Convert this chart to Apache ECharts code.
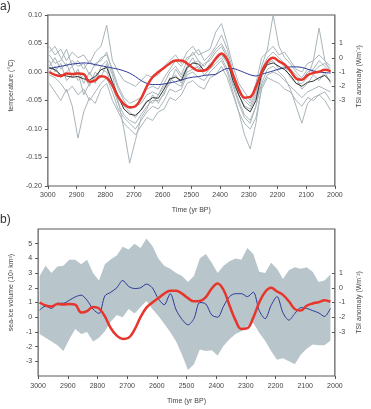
<!DOCTYPE html>
<html>
<head>
<meta charset="utf-8">
<script src="https://cdn.jsdelivr.net/npm/echarts@6.0.0/dist/echarts.min.js"></script>
<style>
  html, body { margin: 0; padding: 0; background: #fff; }
  #chart { width: 371px; height: 409px; }
</style>
</head>
<body>
<div id="chart"></div>
<script>
// years BP, one value every 20 yr
var years = [2995,2975,2955,2935,2915,2895,2875,2855,2835,2815,
             2795,2775,2755,2735,2715,2695,2675,2655,2635,2615,
             2595,2575,2555,2535,2515,2495,2475,2455,2435,2415,
             2395,2375,2355,2335,2315,2295,2275,2255,2235,2215,
             2195,2175,2155,2135,2115,2095,2075,2055,2035,2015];

// panel a: ensemble members (grey)
var member1 = [0.045,0.030,0.040,0.020,0.035,0.025,0.030,0.015,0.035,0.045,
               0.082,0.020,0.000,-0.015,-0.020,-0.025,-0.015,-0.005,-0.010,-0.005,
               0.010,0.020,0.030,0.015,0.035,0.045,0.030,0.035,0.040,0.070,
               0.085,0.050,0.010,-0.020,-0.035,-0.050,-0.020,0.025,0.035,0.045,
               0.030,0.035,0.020,0.005,0.000,0.015,0.020,0.030,0.020,0.010];
var member2 = [-0.020,-0.035,-0.050,-0.030,-0.060,-0.116,-0.070,-0.045,-0.055,-0.030,
               -0.020,-0.050,-0.070,-0.090,-0.100,-0.110,-0.095,-0.080,-0.085,-0.070,
               -0.065,-0.045,-0.050,-0.040,-0.020,-0.015,-0.025,-0.030,-0.010,-0.005,
               0.010,-0.010,-0.040,-0.070,-0.090,-0.100,-0.080,-0.030,-0.010,-0.015,
               -0.020,-0.030,-0.035,-0.050,-0.060,-0.045,-0.050,-0.040,-0.035,-0.050];
var member3 = [0.010,0.025,0.005,0.015,-0.010,0.005,-0.020,0.000,-0.020,0.010,
               0.020,-0.005,-0.050,-0.100,-0.160,-0.120,-0.080,-0.065,-0.040,-0.055,
               -0.035,-0.020,0.005,-0.010,0.010,0.025,0.005,0.015,0.020,0.035,
               0.045,0.025,-0.020,-0.050,-0.075,-0.085,-0.060,-0.010,0.020,0.025,
               0.020,0.010,0.000,-0.010,-0.030,-0.020,-0.005,-0.015,0.000,-0.020];
var member4 = [0.030,0.015,0.020,0.040,0.010,0.020,0.005,0.020,0.010,0.025,
               0.030,0.005,-0.025,-0.045,-0.055,-0.050,-0.045,-0.030,-0.025,-0.030,
               -0.010,0.005,0.020,0.010,0.025,0.030,0.040,0.020,0.030,0.045,
               0.065,0.040,0.000,-0.030,-0.045,-0.055,-0.035,0.010,0.040,0.100,
               0.045,0.025,0.015,0.000,-0.010,0.005,0.000,0.010,0.015,0.005];
var member5 = [-0.005,-0.010,-0.020,-0.035,-0.025,-0.040,-0.030,-0.050,-0.035,-0.020,
               -0.010,-0.035,-0.065,-0.080,-0.090,-0.100,-0.085,-0.070,-0.060,-0.065,
               -0.050,-0.030,-0.035,-0.030,-0.005,0.000,-0.010,-0.015,0.000,0.010,
               0.020,0.000,-0.035,-0.070,-0.110,-0.135,-0.090,-0.025,-0.005,0.000,
               -0.005,-0.015,-0.025,-0.035,-0.045,-0.035,-0.030,-0.025,-0.030,-0.035];
var member6 = [0.000,0.010,-0.010,0.000,0.010,-0.015,-0.005,-0.025,0.000,-0.010,
               0.015,-0.020,-0.040,-0.060,-0.070,-0.080,-0.065,-0.050,-0.055,-0.040,
               -0.025,-0.015,-0.005,-0.020,0.005,0.015,0.020,0.000,0.015,0.020,
               0.030,0.015,-0.010,-0.040,-0.060,-0.065,-0.045,0.000,0.015,0.020,
               0.005,0.010,-0.010,-0.020,-0.020,-0.010,0.020,0.077,0.020,0.000];
var member7 = [0.020,0.000,0.015,-0.015,-0.005,0.000,-0.040,-0.020,-0.010,0.005,
               0.000,-0.025,-0.055,-0.075,-0.085,-0.090,-0.075,-0.060,-0.050,-0.050,
               -0.040,-0.010,-0.020,-0.025,0.000,0.005,0.010,-0.005,0.005,0.015,
               0.025,0.005,-0.025,-0.055,-0.080,-0.090,-0.060,-0.020,0.005,0.010,
               0.000,-0.010,-0.030,-0.060,-0.090,-0.055,-0.045,-0.040,-0.050,-0.067];
var member8 = [0.035,0.045,0.025,0.010,0.020,0.010,0.015,-0.005,0.015,0.020,
               0.035,0.000,-0.030,-0.050,-0.065,-0.060,-0.055,-0.040,-0.035,-0.040,
               -0.020,0.000,0.010,-0.005,0.020,0.035,0.020,0.010,0.025,0.040,
               0.050,0.030,-0.005,-0.035,-0.050,-0.060,-0.040,0.005,0.025,0.035,
               0.025,0.015,0.005,-0.005,-0.015,0.000,0.005,0.020,0.010,0.000];
var members = [member1, member2, member3, member4, member5, member6, member7, member8];

// panel a: ensemble mean (black) and the blue curve
var tempMean = [0.008,0.004,-0.005,-0.007,-0.009,-0.008,-0.012,-0.014,-0.008,0.004,
                0.008,-0.018,-0.043,-0.065,-0.074,-0.076,-0.067,-0.052,-0.045,-0.046,
                -0.030,-0.012,-0.009,-0.015,0.008,0.016,0.014,0.002,0.012,0.022,
                0.033,0.020,-0.015,-0.040,-0.062,-0.070,-0.050,-0.003,0.013,0.016,
                0.010,0.004,-0.006,-0.020,-0.025,-0.018,-0.016,-0.010,-0.006,-0.016];
var tempBlue = [0.006,0.008,0.010,0.012,0.014,0.015,0.016,0.015,0.013,0.011,
                0.009,0.007,0.005,0.002,-0.002,-0.008,-0.015,-0.020,-0.022,-0.022,
                -0.021,-0.019,-0.017,-0.014,-0.011,-0.009,-0.008,-0.006,-0.005,-0.004,
                0.002,0.006,0.006,0.003,-0.001,-0.005,-0.007,-0.004,-0.001,0.002,
                0.005,0.007,0.009,0.009,0.008,0.005,0.002,0.000,-0.001,-0.002];

// TSI anomaly (red), both panels
var tsi = [-1.0,-1.2,-1.28,-1.1,-1.14,-1.1,-1.15,-1.68,-1.58,-1.3,
           -1.4,-1.95,-2.75,-3.25,-3.48,-3.4,-2.85,-2.0,-1.35,-1.0,
           -0.7,-0.4,-0.2,-0.2,-0.4,-0.7,-0.92,-0.9,-0.63,-0.05,
           0.3,-0.15,-1.2,-2.2,-2.8,-2.75,-2.03,-1.0,-0.28,0.0,
           -0.25,-0.48,-0.92,-1.45,-1.55,-1.22,-1.07,-0.98,-0.85,-0.95];

// panel b: sea-ice volume mean (blue) and spread (grey band)
var iceMean = [0.48,0.75,0.6,0.95,0.95,1.15,1.38,1.5,1.15,0.55,
               0.25,1.45,1.7,2.0,2.5,2.1,1.95,2.0,2.25,2.0,
               1.25,0.85,1.6,0.5,-0.15,-0.52,-0.1,1.0,0.9,0.15,
               0.0,0.75,1.4,1.6,1.6,1.4,1.7,0.45,-0.1,0.8,
               1.4,0.3,-0.2,0.25,0.65,0.6,0.45,0.3,0.05,0.6];
var iceUpper = [2.8,3.5,3.0,3.45,3.5,3.9,3.9,3.6,3.9,3.0,
                2.5,3.6,3.95,4.2,4.8,4.6,5.0,4.7,5.35,4.85,
                4.0,3.5,3.3,3.0,2.8,2.4,2.8,4.0,4.3,3.7,
                3.0,3.5,3.8,4.0,3.9,4.7,4.3,3.1,3.0,3.7,
                3.3,2.6,3.2,3.4,3.3,3.4,3.1,2.4,2.5,2.9];
var iceLower = [-1.15,-1.4,-1.65,-1.9,-2.3,-1.5,-0.8,-1.15,-1.0,-1.65,
                -1.4,-0.95,-0.3,0.15,0.0,0.55,0.25,0.7,1.1,0.55,
                0.1,-0.45,-1.0,-1.65,-2.55,-3.6,-3.2,-2.2,-2.3,-2.25,
                -2.6,-1.95,-1.5,-1.15,-0.95,-0.6,-0.4,-1.05,-1.6,-2.3,
                -2.9,-2.8,-3.0,-3.2,-2.55,-2.15,-1.85,-1.9,-1.9,-1.6];

// tick labels
var tsiTicks = [-3, -2, -1, 0, 1];
var iceTicks = [-3, -2, -1, 0, 1, 2, 3, 4, 5];

var FONT = 'Liberation Sans, Arial, sans-serif';
var TXT = '#444';

function pairs(vals) {
  return years.map(function (y, i) { return [y, vals[i]]; });
}

function xAx(gi, labelMargin, nameGap) {
  return {
    type: 'value', gridIndex: gi, min: 2000, max: 3000, interval: 100, inverse: true,
    name: 'Time (yr BP)', nameLocation: 'middle', nameGap: nameGap,
    nameTextStyle: { fontSize: 7, color: TXT, fontFamily: FONT },
    axisLine: { show: false, onZero: false },
    axisTick: { show: true, length: 3, lineStyle: { color: '#555' } },
    axisLabel: { fontSize: 7, color: TXT, fontFamily: FONT, margin: labelMargin,
      formatter: function (v) { return String(v); } },
    splitLine: { show: false }
  };
}

function line(vals, xi, yi, color, width, z, smooth) {
  return {
    type: 'line', xAxisIndex: xi, yAxisIndex: yi, data: pairs(vals),
    showSymbol: false, smooth: smooth || false, z: z, silent: true,
    lineStyle: { color: color, width: width }
  };
}

var chart = echarts.init(document.getElementById('chart'), null, { renderer: 'canvas' });

var series = members.map(function (m) { return line(m, 0, 0, '#a9b5ba', 1, 2); });
series.push(line(tempBlue, 0, 0, '#2b3a99', 1, 3, 0.3));
series.push(line(tempMean, 0, 0, '#333333', 1, 4));
series.push(line(tsi, 0, 1, '#e8352b', 2.5, 5, 0.4));

series.push({
  type: 'custom', xAxisIndex: 1, yAxisIndex: 2, silent: true, z: 1,
  data: [[2500, 0]],
  renderItem: function (params, api) {
    var pts = [];
    for (var i = 0; i < years.length; i++) pts.push(api.coord([years[i], iceUpper[i]]));
    for (var j = years.length - 1; j >= 0; j--) pts.push(api.coord([years[j], iceLower[j]]));
    return { type: 'polygon', shape: { points: pts }, style: { fill: '#b8c5ca' } };
  }
});
series.push(line(iceMean, 1, 2, '#2b3a99', 1, 3, 0.3));
series.push(line(tsi, 1, 3, '#e8352b', 2.5, 5, 0.4));

var option = {
  animation: false,
  backgroundColor: '#fff',
  textStyle: { fontFamily: FONT },
  grid: [
    { left: 33, top: 15, width: 313, height: 171, show: true, borderColor: '#5a5a5a', borderWidth: 1.2 },
    { left: 32, top: 229, width: 313, height: 147, show: true, borderColor: '#5a5a5a', borderWidth: 1.2 }
  ],
  xAxis: [xAx(0, 6, 21), xAx(1, 7, 22)],
  yAxis: [
    {
      type: 'value', gridIndex: 0, position: 'left', min: -0.2, max: 0.1, interval: 0.05,
      name: 'temperature (°C)', nameLocation: 'middle', nameGap: 24, nameRotate: 90,
      nameTextStyle: { fontSize: 7, color: TXT, fontFamily: FONT, padding: [0, 0, 0, 30] },
      axisLine: { show: false, onZero: false },
      axisTick: { show: true, length: 3, lineStyle: { color: '#555' } },
      axisLabel: { fontSize: 7, color: TXT, fontFamily: FONT, margin: 6,
        formatter: function (v) { return v.toFixed(2); } },
      splitLine: { show: false }
    },
    {
      type: 'value', gridIndex: 0, position: 'right', min: -9, max: 3, interval: 1,
      name: 'TSI anomaly (Wm⁻²)', nameLocation: 'middle', nameGap: 15, nameRotate: 90,
      nameTextStyle: { fontSize: 7, color: TXT, fontFamily: FONT, padding: [0, 0, 0, 48] },
      axisLine: { show: false, onZero: false },
      axisTick: { show: true, inside: true, length: 3, customValues: tsiTicks, lineStyle: { color: '#555' } },
      axisLabel: { fontSize: 7, color: TXT, fontFamily: FONT, margin: 4, customValues: tsiTicks },
      splitLine: { show: false }
    },
    {
      type: 'value', gridIndex: 1, position: 'left', min: -4, max: 6, interval: 1,
      name: 'sea-ice volume (10³ km³)', nameLocation: 'middle', nameGap: 20, nameRotate: 90,
      nameTextStyle: { fontSize: 7, color: TXT, fontFamily: FONT, padding: [0, 0, 0, 20] },
      axisLine: { show: false, onZero: false },
      axisTick: { show: true, length: 3, customValues: iceTicks, lineStyle: { color: '#555' } },
      axisLabel: { fontSize: 7, color: TXT, fontFamily: FONT, margin: 6, customValues: iceTicks },
      splitLine: { show: false }
    },
    {
      type: 'value', gridIndex: 1, position: 'right', min: -6, max: 4, interval: 1,
      name: 'TSI anomaly (Wm⁻²)', nameLocation: 'middle', nameGap: 15, nameRotate: 90,
      nameTextStyle: { fontSize: 7, color: TXT, fontFamily: FONT },
      axisLine: { show: false, onZero: false },
      axisTick: { show: true, inside: true, length: 3, customValues: tsiTicks, lineStyle: { color: '#555' } },
      axisLabel: { fontSize: 7, color: TXT, fontFamily: FONT, margin: 4, customValues: tsiTicks },
      splitLine: { show: false }
    }
  ],
  graphic: [
    { type: 'text', left: 0, top: 1, style: { text: 'a)', font: '12px ' + FONT, fill: '#333' } },
    { type: 'text', left: 0, top: 214, style: { text: 'b)', font: '12px ' + FONT, fill: '#333' } }
  ],
  series: series
};

chart.setOption(option);
</script>
</body>
</html>
